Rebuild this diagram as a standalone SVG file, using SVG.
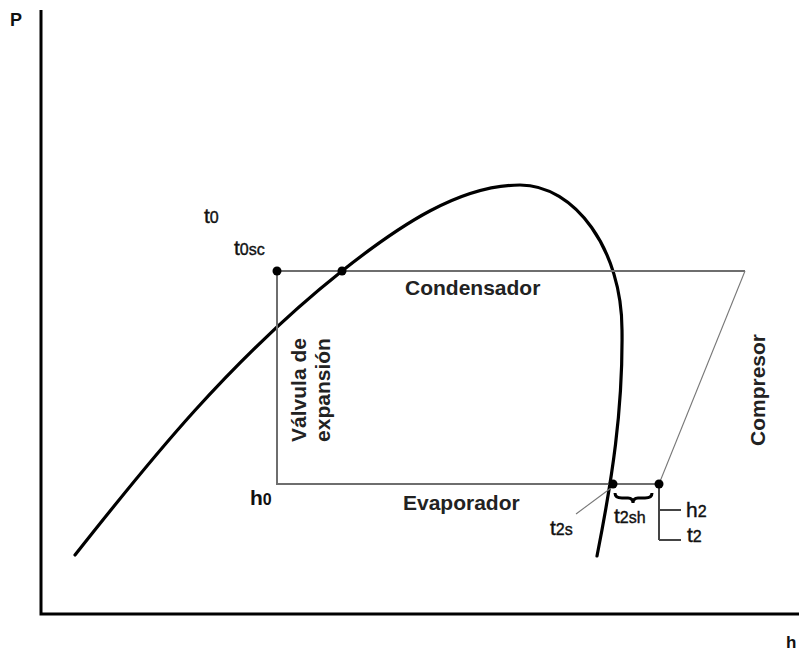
<svg xmlns="http://www.w3.org/2000/svg" width="799" height="654" viewBox="0 0 799 654">
<style>
.axis{stroke:#000;stroke-width:3;fill:none}
.cyc{stroke:#6e6e6e;stroke-width:2;fill:none}
.thin{stroke:#777;stroke-width:1.1;fill:none}
.curve{stroke:#000;stroke-width:3.2;fill:none;stroke-linecap:round}
.dot{fill:#000}
.lbl{font-family:"Liberation Sans",Arial,sans-serif;font-weight:bold;font-size:21px;fill:#222}
.sm{font-family:"Liberation Sans",Arial,sans-serif;font-size:21px;fill:#111;stroke:#111;stroke-width:0.4}
.sub{font-size:16px}
</style>
<rect width="799" height="654" fill="#fff"/>
<g id="axes">
<path class="axis" d="M41,10 L41,614 L799,614"/>
<text x="10" y="26" style="font-family:'Liberation Sans',Arial,sans-serif;font-weight:bold;font-size:18px;fill:#111">P</text>
<text x="786" y="648" style="font-family:'Liberation Sans',Arial,sans-serif;font-weight:bold;font-size:17px;fill:#111">h</text>
</g>
<g id="saturation-curve">
<path class="curve" d="M75,555 C150,460 230,360 342,271 C400,225 460,185 520,185 C575,185 622,250 622,330 C623,410 612,480 597,556"/>
</g>
<g id="connectors">
<path class="cyc" d="M277,271 L745,271 M277,271 L277,484 L659,484"/>
<path class="thin" d="M745,271 L659,484"/>
<path class="thin" d="M611,488 L576,514"/>
<path class="cyc" style="stroke:#444" d="M659,484 L659,540 M659,510 L681,510 M659,540 L681,540"/>
<path d="M615,493 Q615,498 622,498 L628,498 Q633,498 633,503 Q633,498 638,498 L645,498 Q652,498 652,493" style="stroke:#000;stroke-width:3;fill:none"/>
</g>
<g id="points">
<circle class="dot" cx="277" cy="271" r="4.5"/>
<circle class="dot" cx="342" cy="271" r="4.5"/>
<circle class="dot" cx="613" cy="484" r="4.5"/>
<circle class="dot" cx="659" cy="484" r="4.5"/>
</g>
<g id="condensador"><text class="lbl" x="405" y="295">Condensador</text></g>
<g id="evaporador"><text class="lbl" x="403" y="510">Evaporador</text></g>
<g id="valvula">
<text class="lbl" transform="translate(306,390) rotate(-90)" text-anchor="middle">Válvula de</text>
<text class="lbl" transform="translate(330,390) rotate(-90)" text-anchor="middle">expansión</text>
</g>
<g id="compresor"><text class="lbl" transform="translate(765,390) rotate(-90)" text-anchor="middle">Compresor</text></g>
<g id="labels">
<text class="sm" x="204" y="223">t<tspan class="sub">0</tspan></text>
<text class="sm" x="234" y="255">t<tspan class="sub">0sc</tspan></text>
<text class="sm" x="250" y="505" style="font-weight:bold;stroke:none">h<tspan class="sub">0</tspan></text>
<text class="sm" x="550" y="535">t<tspan class="sub">2s</tspan></text>
<text class="sm" x="614" y="523">t<tspan class="sub">2sh</tspan></text>
<text class="sm" x="686" y="517">h<tspan class="sub">2</tspan></text>
<text class="sm" x="687" y="542">t<tspan class="sub">2</tspan></text>
</g>
</svg>
